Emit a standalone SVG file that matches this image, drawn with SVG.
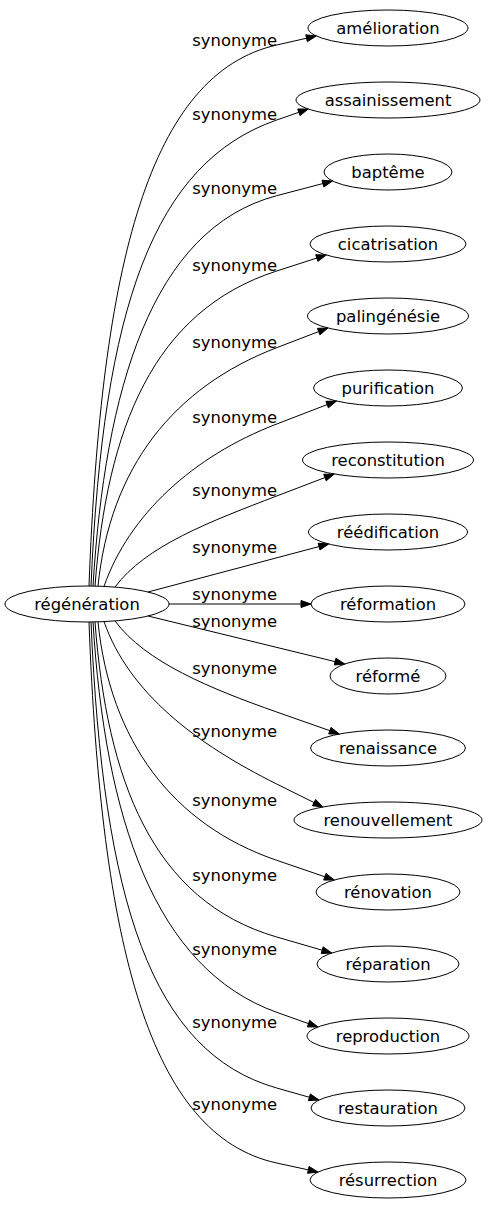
<svg xmlns="http://www.w3.org/2000/svg" width="488" height="1211" viewBox="0 0 488 1211">
<style>
.n ellipse{fill:none;stroke:#000;stroke-width:1}
.n text{font-family:"DejaVu Sans",sans-serif;font-size:16.4px;text-anchor:middle;fill:#000}
.e path{fill:none;stroke:#000;stroke-width:1}
.e polygon{fill:#000;stroke:#000;stroke-width:1}
.e text{font-family:"DejaVu Sans",sans-serif;font-size:16.4px;text-anchor:middle;fill:#000}
</style>
<rect width="488" height="1211" fill="#fff"/>
<g id="connectors" class="e">
<g id="e1"><path d="M89,586 C101,262 149.9,73.8 276.7,45 L306.55,38.22"/><polygon points="316.3,36 307.33,41.63 305.77,34.81"/><text x="234.7" y="45.5">synonyme</text></g>
<g id="e2"><path d="M91,586 C103,306.4 153.9,162.7 276.7,120 L298.86,112.29"/><polygon points="308.3,109 300.01,115.6 297.71,108.98"/><text x="234.7" y="119.5">synonyme</text></g>
<g id="e3"><path d="M93,586 C105,391 151,228.8 276.7,195.7 L322.93,183.54"/><polygon points="332.6,181 323.82,186.93 322.04,180.16"/><text x="234.7" y="194">synonyme</text></g>
<g id="e4"><path d="M95,586 C107,428.5 153,310.9 276.7,271 L316.78,258.07"/><polygon points="326.3,255 317.86,261.4 315.71,254.74"/><text x="234.7" y="270.5">synonyme</text></g>
<g id="e5"><path d="M98,586.2 C110,467 174,387.1 276.7,347.7 L318.66,331.59"/><polygon points="328,328 319.92,334.86 317.41,328.32"/><text x="234.7" y="347.5">synonyme</text></g>
<g id="e6"><path d="M104,586.4 C129,515 192.7,456.3 276.7,424 L327.17,404.59"/><polygon points="336.5,401 328.42,407.86 325.91,401.32"/><text x="234.7" y="423">synonyme</text></g>
<g id="e7"><path d="M115,587.1 C145,546.1 211.3,521 276.7,496 L324.96,477.57"/><polygon points="334.3,474 326.21,480.84 323.71,474.3"/><text x="234.7" y="495.5">synonyme</text></g>
<g id="e8"><path d="M148,592 L319.04,546.57"/><polygon points="328.7,544 319.94,549.95 318.14,543.19"/><text x="234.7" y="553">synonyme</text></g>
<g id="e9"><path d="M169,604 L301,604"/><polygon points="311,604 301,600.5 301,607.5"/><text x="234.7" y="599.5">synonyme</text></g>
<g id="e10"><path d="M148,616 L335.09,661.63"/><polygon points="344.8,664 334.26,665.03 335.92,658.23"/><text x="234.7" y="626.5">synonyme</text></g>
<g id="e11"><path d="M115,620.9 C145,661.9 210.7,688.8 276.7,712 L329.87,730.68"/><polygon points="339.3,734 328.71,733.98 331.03,727.38"/><text x="234.7" y="673.5">synonyme</text></g>
<g id="e12"><path d="M104,621.6 C129,693 196.1,744 276.7,784 L314.04,802.55"/><polygon points="323,807 312.48,805.69 315.6,799.42"/><text x="234.7" y="736.5">synonyme</text></g>
<g id="e13"><path d="M98,621.8 C110,741 172.6,824.7 276.7,860.3 L324.84,876.76"/><polygon points="334.3,880 323.71,880.07 325.97,873.45"/><text x="234.7" y="805.5">synonyme</text></g>
<g id="e14"><path d="M95,622 C107,779.5 151.9,900.8 276.7,937 L322.2,950.21"/><polygon points="331.8,953 321.22,953.57 323.18,946.85"/><text x="234.7" y="880.5">synonyme</text></g>
<g id="e15"><path d="M93,622 C105,817 154.3,968.6 276.7,1012.3 L308.48,1023.64"/><polygon points="317.9,1027 307.3,1026.94 309.66,1020.34"/><text x="234.7" y="954.5">synonyme</text></g>
<g id="e16"><path d="M91,622 C103,901.6 151.6,1052.5 276.7,1088 L309.38,1097.27"/><polygon points="319,1100 308.43,1100.64 310.34,1093.9"/><text x="234.7" y="1027.5">synonyme</text></g>
<g id="e17"><path d="M89,622 C101,946 149.7,1135.4 276.7,1163 L308.33,1169.88"/><polygon points="318.1,1172 307.59,1173.3 309.07,1166.46"/><text x="234.7" y="1109.5">synonyme</text></g>
</g>
<g id="regeneration" class="n"><ellipse cx="87" cy="604" rx="82" ry="18"/><text x="87" y="609.5">régénération</text></g>
<g id="amelioration" class="n"><ellipse cx="388" cy="28" rx="80" ry="18"/><text x="388" y="33.5">amélioration</text></g>
<g id="assainissement" class="n"><ellipse cx="388" cy="100" rx="92" ry="18"/><text x="388" y="105.5">assainissement</text></g>
<g id="bapteme" class="n"><ellipse cx="388" cy="172" rx="64" ry="18"/><text x="388" y="177.5">baptême</text></g>
<g id="cicatrisation" class="n"><ellipse cx="388" cy="244" rx="78" ry="18"/><text x="388" y="249.5">cicatrisation</text></g>
<g id="palingenesie" class="n"><ellipse cx="388" cy="316" rx="80.5" ry="18"/><text x="388" y="321.5">palingénésie</text></g>
<g id="purification" class="n"><ellipse cx="388" cy="388" rx="74.5" ry="18"/><text x="388" y="393.5">purification</text></g>
<g id="reconstitution" class="n"><ellipse cx="388" cy="460" rx="85.5" ry="18"/><text x="388" y="465.5">reconstitution</text></g>
<g id="reedification" class="n"><ellipse cx="388" cy="532" rx="79.5" ry="18"/><text x="388" y="537.5">réédification</text></g>
<g id="reformation" class="n"><ellipse cx="388" cy="604" rx="77" ry="18"/><text x="388" y="609.5">réformation</text></g>
<g id="reforme" class="n"><ellipse cx="388" cy="676" rx="58" ry="18"/><text x="388" y="681.5">réformé</text></g>
<g id="renaissance" class="n"><ellipse cx="388" cy="748" rx="77.5" ry="18"/><text x="388" y="753.5">renaissance</text></g>
<g id="renouvellement" class="n"><ellipse cx="388" cy="820" rx="94" ry="18"/><text x="388" y="825.5">renouvellement</text></g>
<g id="renovation" class="n"><ellipse cx="388" cy="892" rx="72" ry="18"/><text x="388" y="897.5">rénovation</text></g>
<g id="reparation" class="n"><ellipse cx="388" cy="964" rx="71" ry="18"/><text x="388" y="969.5">réparation</text></g>
<g id="reproduction" class="n"><ellipse cx="388" cy="1036" rx="81" ry="18"/><text x="388" y="1041.5">reproduction</text></g>
<g id="restauration" class="n"><ellipse cx="388" cy="1108" rx="77" ry="18"/><text x="388" y="1113.5">restauration</text></g>
<g id="resurrection" class="n"><ellipse cx="388" cy="1180" rx="78" ry="18"/><text x="388" y="1185.5">résurrection</text></g>
</svg>
